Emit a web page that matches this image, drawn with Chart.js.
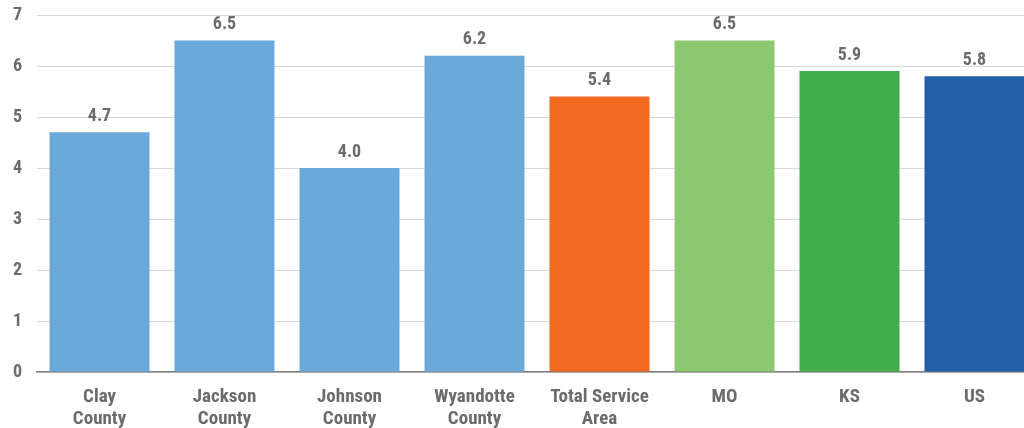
<!DOCTYPE html>
<html><head><meta charset="utf-8">
<script src="https://cdn.jsdelivr.net/npm/chart.js@4/dist/chart.umd.min.js"></script>
<style>
html,body{margin:0;padding:0;overflow:hidden;background:#fff;}
#wrap{width:1040px;height:428px;position:relative;}
</style></head><body>
<div id="wrap"><canvas id="c"></canvas></div>
<script>
const categories = [["Clay","County"],["Jackson","County"],["Johnson","County"],["Wyandotte","County"],["Total Service","Area"],["MO"],["KS"],["US"]];
const values = [4.7, 6.5, 4.0, 6.2, 5.4, 6.5, 5.9, 5.8];
const barColors = ["#6CA9DB","#6CA9DB","#6CA9DB","#6CA9DB","#F26B21","#8BC870","#3FAE49","#215FAB"];
const yTicks = [0,1,2,3,4,5,6,7];

const FONT = "'Liberation Sans Narrow','Arial Narrow','Roboto Condensed','Liberation Sans',sans-serif";
const GRAY = "#6b6b6b";

const labelPlugin = {
  id: 'valueLabels',
  afterDatasetsDraw(chart) {
    const ctx = chart.ctx;
    const meta = chart.getDatasetMeta(0);
    ctx.save();
    ctx.font = "bold 18px " + FONT;
    ctx.fillStyle = GRAY;
    ctx.textAlign = 'center';
    ctx.textBaseline = 'bottom';
    meta.data.forEach((bar, i) => {
      ctx.fillText(values[i].toFixed(1), bar.x, bar.y - 7);
    });
    ctx.restore();
  }
};

new Chart(document.getElementById('c'), {
  type: 'bar',
  data: {
    labels: categories,
    datasets: [{
      data: values,
      backgroundColor: barColors,
      borderWidth: 0,
      categoryPercentage: 0.8,
      barPercentage: 1.0
    }]
  },
  options: {
    responsive: true,
    maintainAspectRatio: false,
    animation: false,
    layout: { padding: { top: 15, right: 3, left: 0, bottom: 0 } },
    plugins: { legend: { display: false }, tooltip: { enabled: false } },
    scales: {
      x: {
        afterFit(axis) { axis.height = 56; },
        grid: { display: false, drawTicks: false },
        border: { display: true, color: "#7f7f7f", width: 1.5 },
        ticks: { color: GRAY, font: { family: FONT, size: 19, weight: 'bold', lineHeight: 1.15 }, padding: 14, maxRotation: 0, autoSkip: false }
      },
      y: {
        min: 0, max: 7,
        afterBuildTicks(axis) { axis.ticks = yTicks.map(v => ({ value: v })); },
        afterFit(axis) { axis.width = 37; axis.paddingTop = 0; axis.paddingBottom = 0; },
        grid: { color: "#d9d9d9", lineWidth: 1, drawTicks: false },
        border: { display: false },
        ticks: { color: GRAY, font: { family: FONT, size: 18, weight: 'bold' }, padding: 15, align: 'center' }
      }
    }
  },
  plugins: [labelPlugin]
});
</script>
</body></html>
